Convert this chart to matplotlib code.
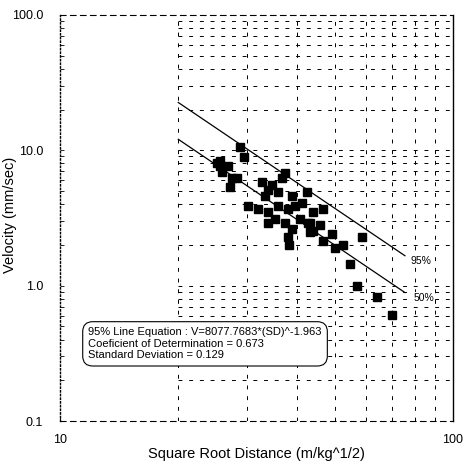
import numpy as np
import matplotlib
matplotlib.use("Agg")
import matplotlib.pyplot as plt
from matplotlib.ticker import FixedLocator, NullFormatter

plt.rcParams["font.family"] = ["Liberation Sans", "DejaVu Sans"]

# measured points: scaled distance (m/kg^1/2) vs peak particle velocity (mm/sec)
distance = [
    28.7, 29.4, 25.5, 25.1, 25.5, 26.8, 25.8, 27.4, 28.2, 27.1,
    32.7, 33.8, 33.2, 30.1, 31.9, 33.8, 35.9, 38.0, 39.6, 34.6,
    36.7, 37.4, 35.9, 38.9, 35.3, 37.4, 33.8, 38.9, 38.0, 38.3,
    40.8, 43.3, 43.3, 42.5, 41.3, 44.0, 46.7, 42.8, 45.9, 44.0,
    49.2, 46.7, 50.1, 52.5, 58.7, 54.7, 57.0, 64.1, 70.0,
]
velocity = [
    10.5, 8.9, 8.4, 8.0, 7.6, 7.7, 6.9, 6.2, 6.2, 5.4,
    5.8, 5.1, 4.6, 3.9, 3.7, 3.5, 3.9, 3.7, 3.9, 5.5,
    6.2, 6.8, 4.9, 4.6, 3.1, 2.9, 2.9, 2.6, 2.3, 2.0,
    3.1, 2.9, 2.5, 4.9, 4.05, 3.5, 3.7, 2.9, 2.8, 2.55,
    2.4, 2.15, 1.9, 2.0, 2.3, 1.45, 1.0, 0.82, 0.61,
]

# regression lines V = k * SD^n
line_labels = ["95%", "50%"]
line_coef = [8077.7683, 4318.0]
line_exp = -1.963
line_range = [20, 75.5]

box_text = (
    "95% Line Equation : V=8077.7683*(SD)^-1.963\n"
    "Coeficient of Determination = 0.673\n"
    "Standard Deviation = 0.129"
)

fig = plt.figure(figsize=(4.65, 4.67), dpi=100)
ax = fig.add_axes([0.129, 0.0985, 0.845, 0.8695])
ax.set_xscale("log")
ax.set_yscale("log")
ax.set_xlim(10, 100)
ax.set_ylim(0.1, 100)

# dashed excel-style grid (scanned copy only shows it right of SD=20)
grid_style = dict(color="black", lw=0.7, linestyle=(0, (4, 7)), zorder=1)
for xv in range(20, 100, 10):
    ax.axvline(xv, **grid_style)
for decade in [0.1, 1, 10]:
    for m in range(1, 10):
        yv = decade * m
        if 0.1 < yv < 100:
            ax.hlines(yv, 20, 100, **grid_style)

ax.spines["left"].set_linestyle(":")
ax.spines["left"].set_linewidth(1.0)
ax.spines["bottom"].set_linestyle((0, (5, 4)))
ax.spines["top"].set_linestyle((0, (5, 4)))
ax.spines["top"].set_linewidth(0.8)
ax.spines["right"].set_linewidth(1.0)

ax.yaxis.set_major_locator(FixedLocator([0.1, 1, 10, 100]))
ax.set_yticklabels(["0.1", "1.0", "10.0", "100.0"])
ax.xaxis.set_major_locator(FixedLocator([10, 100]))
ax.set_xticklabels(["10", "100"])
ax.xaxis.set_minor_formatter(NullFormatter())
ax.yaxis.set_minor_formatter(NullFormatter())
ax.tick_params(axis="both", which="both", direction="in", length=3, width=0.6,
               labelsize=9)
ax.tick_params(axis="y", which="major", pad=12)
ax.tick_params(axis="x", which="major", pad=9)
ax.tick_params(axis="x", which="minor", length=0)

ax.plot(distance, velocity, "s", color="black", markersize=6, zorder=3)

xs = np.array(line_range)
offsets = [(4, -4), (6, -4)]
for label, k, off in zip(line_labels, line_coef, offsets):
    ys = k * xs ** line_exp
    ax.plot(xs, ys, color="black", lw=0.9, zorder=4)
    ax.annotate(label, (xs[-1], ys[-1]), xytext=off, textcoords="offset points",
                fontsize=7.5, va="center", ha="left",
                bbox=dict(boxstyle="square,pad=0.1", fc="white", ec="none"))

ax.text(0.072, 0.19, box_text, transform=ax.transAxes, fontsize=8,
        va="center", ha="left", linespacing=1.2, zorder=5,
        bbox=dict(boxstyle="round,pad=0.5,rounding_size=0.9",
                  fc="white", ec="black", lw=0.8))

ax.set_xlabel("Square Root Distance (m/kg^1/2)", fontsize=10.5)
ax.set_ylabel("Velocity (mm/sec)", fontsize=10.5)
ax.xaxis.set_label_coords(0.5, -0.064)
ax.yaxis.set_label_coords(-0.109, 0.507)

fig.savefig("out.png", dpi=100)
